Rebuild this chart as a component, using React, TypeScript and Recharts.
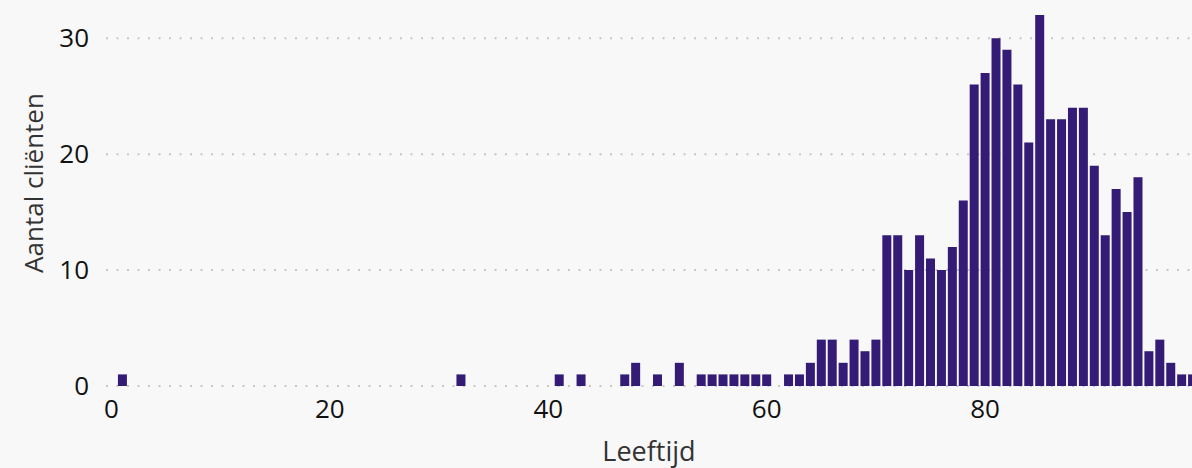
import React from "react";
import { BarChart, Bar, XAxis, YAxis, CartesianGrid, Label } from "recharts";

// leeftijd (jaren) per staaf
const ages = [
  0, 1, 2, 3, 4, 5, 6, 7, 8, 9, 10, 11, 12, 13, 14, 15, 16, 17, 18, 19,
  20, 21, 22, 23, 24, 25, 26, 27, 28, 29, 30, 31, 32, 33, 34, 35, 36, 37, 38, 39,
  40, 41, 42, 43, 44, 45, 46, 47, 48, 49, 50, 51, 52, 53, 54, 55, 56, 57, 58, 59,
  60, 61, 62, 63, 64, 65, 66, 67, 68, 69, 70, 71, 72, 73, 74, 75, 76, 77, 78, 79,
  80, 81, 82, 83, 84, 85, 86, 87, 88, 89, 90, 91, 92, 93, 94, 95, 96, 97, 98, 99,
];

// aantal cliënten per leeftijd
const counts = [
  0, 1, 0, 0, 0, 0, 0, 0, 0, 0, 0, 0, 0, 0, 0, 0, 0, 0, 0, 0,
  0, 0, 0, 0, 0, 0, 0, 0, 0, 0, 0, 0, 1, 0, 0, 0, 0, 0, 0, 0,
  0, 1, 0, 1, 0, 0, 0, 1, 2, 0, 1, 0, 2, 0, 1, 1, 1, 1, 1, 1,
  1, 0, 1, 1, 2, 4, 4, 2, 4, 3, 4, 13, 13, 10, 13, 11, 10, 12, 16, 26,
  27, 30, 29, 26, 21, 32, 23, 23, 24, 24, 19, 13, 17, 15, 18, 3, 4, 2, 1, 1,
];

const yTicks = [0, 10, 20, 30];

const data = ages.map((age, i) => ({ age, count: counts[i] }));

const FONT = '"Segoe UI", "Open Sans", sans-serif';

export default function App() {
  return (
    <div
      style={{
        position: "absolute",
        left: 0,
        top: 0,
        width: 1192,
        height: 468,
        overflow: "hidden",
        background: "#f8f8f8",
      }}
    >
      <BarChart
        width={1198}
        height={468}
        data={data}
        margin={{ top: 15, right: 0, left: 0, bottom: 0 }}
      >
        <CartesianGrid
          vertical={false}
          horizontalValues={yTicks}
          stroke="#c6c6c6"
          strokeWidth={2}
          strokeDasharray="2 8.5"
        />
        <XAxis
          dataKey="age"
          type="category"
          interval={19}
          height={82}
          tickLine={false}
          axisLine={false}
          tickMargin={8}
          tick={{ fill: "#111", fontSize: 26, fontFamily: FONT }}
        >
          <Label
            content={() => (
              <text
                x={649}
                y={461}
                textAnchor="middle"
                fill="#333"
                fontSize={27}
                fontFamily={FONT}
              >
                Leeftijd
              </text>
            )}
          />
        </XAxis>
        <YAxis
          domain={[0, 32]}
          ticks={yTicks}
          width={106}
          tickLine={false}
          axisLine={false}
          tickSize={0}
          tickMargin={17}
          tick={{ fill: "#111", fontSize: 26, fontFamily: FONT }}
        >
          <Label
            content={() => (
              <text
                x={33}
                y={183}
                transform="rotate(-90 33 183)"
                textAnchor="middle"
                dominantBaseline="central"
                fill="#333"
                fontSize={26}
                fontFamily={FONT}
              >
                Aantal cliënten
              </text>
            )}
          />
        </YAxis>
        <Bar
          dataKey="count"
          fill="#341b76"
          barSize={9}
          isAnimationActive={false}
        />
      </BarChart>
    </div>
  );
}
